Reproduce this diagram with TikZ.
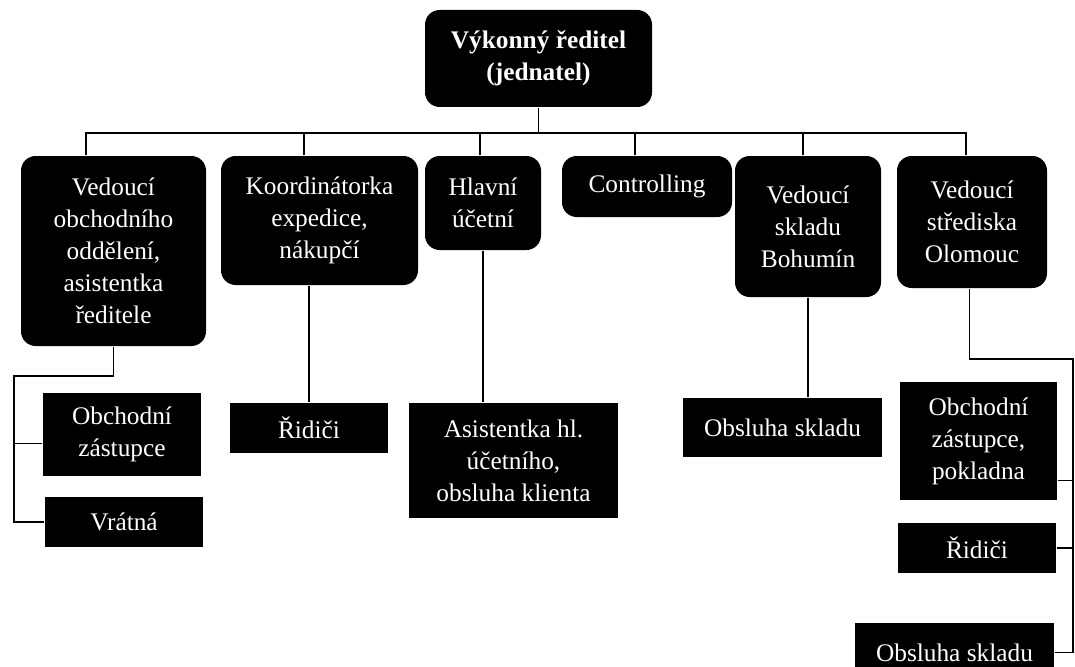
\documentclass[tikz,border=0pt]{standalone}
\usepackage{fontspec}
\setmainfont{Liberation Serif}
\tikzset{
  box/.style={fill=black,text=white,align=center,inner sep=2pt,font=\fontsize{19}{24}\selectfont},
  rbox/.style={box,rounded corners=11pt},
}
\begin{document}
\begin{tikzpicture}[x=0.75pt,y=-0.75pt,line width=0.9pt]
\useasboundingbox (0,0) rectangle (1075,667);
\clip (0,0) rectangle (1075,667);

\node[rbox,font=\bfseries\fontsize{19}{24}\selectfont,minimum width=170.25pt,minimum height=72.75pt](ceo) at (538.5,58.5) {Výkonný ředitel\\(jednatel)};

\node[rbox,minimum width=138.75pt,minimum height=142.5pt](vob) at (113.5,251) {Vedoucí\\obchodního\\oddělení,\\asistentka\\ředitele};
\node[rbox,minimum width=147.75pt,minimum height=96.75pt](koord) at (319.5,220.5) {Koordinátorka\\expedice,\\nákupčí};
\node[rbox,minimum width=87pt,minimum height=70.5pt](hlavni) at (483,203) {Hlavní\\účetní};
\node[rbox,minimum width=127.5pt,minimum height=45.75pt](contr) at (647,186.5) {Controlling};
\node[rbox,minimum width=109.5pt,minimum height=105.75pt](bohumin) at (808,226.5) {Vedoucí\\skladu\\Bohumín};
\node[rbox,minimum width=112.5pt,minimum height=99pt](olom) at (972,222) {Vedoucí\\střediska\\Olomouc};

\node[box,minimum width=118.5pt,minimum height=62.25pt](obch) at (122,434.5) {Obchodní\\zástupce};
\node[box,minimum width=118.5pt,minimum height=37.5pt](vratna) at (124,522) {Vrátná};
\node[box,minimum width=118.5pt,minimum height=37.5pt](rid1) at (309,428) {Řidiči};
\node[box,minimum width=156.75pt,minimum height=86.25pt](asist) at (513.5,460.5) {Asistentka hl.\\účetního,\\obsluha klienta};
\node[box,minimum width=149.25pt,minimum height=44.25pt](obsl1) at (782.5,427.5) {Obsluha skladu};
\node[box,minimum width=117.75pt,minimum height=88.5pt](pokl) at (978.5,441) {Obchodní\\zástupce,\\pokladna};
\node[box,minimum width=118.5pt,minimum height=37.5pt](rid2) at (977,548) {Řidiči};
\node[box,minimum width=149.25pt,minimum height=44.25pt](obsl2) at (954.5,652.5) {Obsluha skladu};

\coordinate (busL) at (86,133);
\coordinate (busR) at (966,133);
\coordinate (lcorner) at (14,376);
\coordinate (rtop) at (1073,359);

\draw (ceo.south) -- (ceo.south |- busL);
\draw (busL) -- (busR);
\draw ([xshift=-20.6pt]vob.north) -- ++(0,-23);
\draw ([xshift=-11.6pt]koord.north) -- ++(0,-23);
\draw ([xshift=-2.2pt]hlavni.north) -- ++(0,-23);
\draw ([xshift=-9pt]contr.north) -- ++(0,-23);
\draw ([xshift=-3.7pt]bohumin.north) -- ++(0,-23);
\draw ([xshift=-4.5pt]olom.north) -- ++(0,-23);

\draw (vob.south) |- (lcorner) -- (lcorner |- vratna.west) -- (vratna.west);
\draw ([yshift=-7pt]obch.west) -- ++(-29,0);

\draw (koord.south -| rid1.north) -- (rid1.north);
\draw (hlavni.south) -- (hlavni.south |- asist.north);
\draw (bohumin.south) -- (bohumin.south |- obsl1.north);

\draw ([xshift=-2pt]olom.south) |- (rtop) -- (rtop |- obsl2.east);
\draw ([yshift=15pt]pokl.south east) -- ++(16,0);
\draw (rid2.east) -- (rid2.east -| rtop);
\draw (obsl2.east) -- (obsl2.east -| rtop);

\end{tikzpicture}
\end{document}
